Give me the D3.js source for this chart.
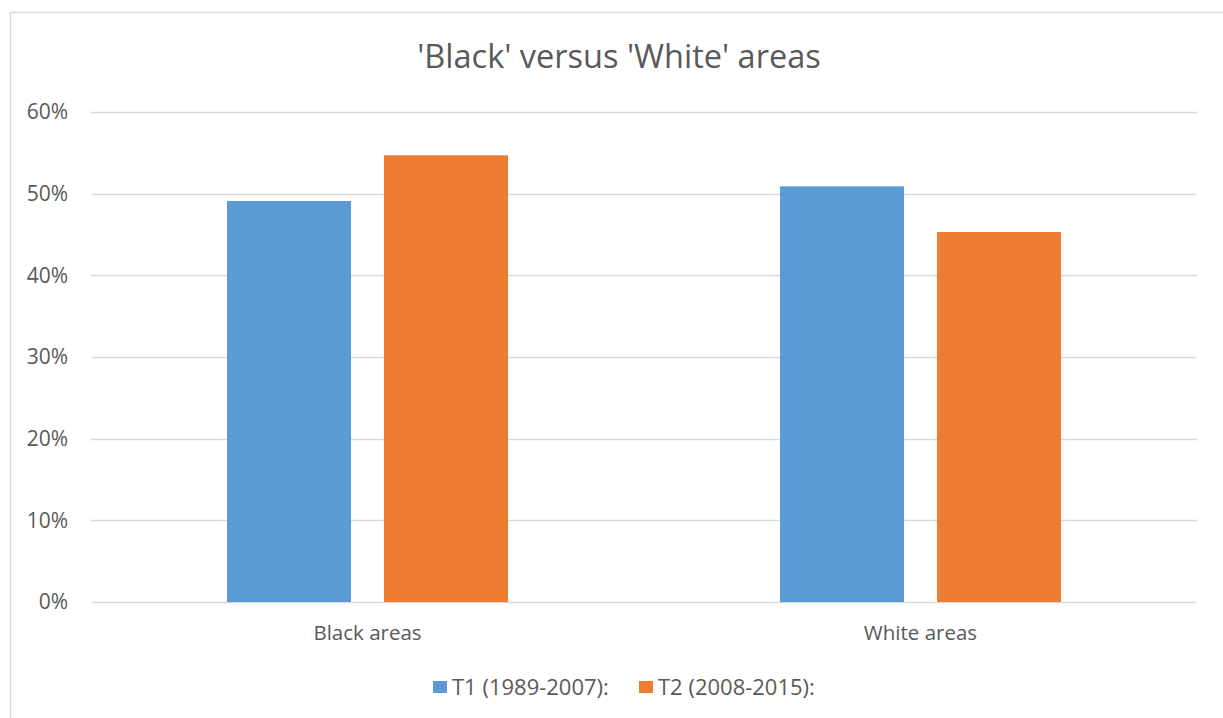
<!DOCTYPE html>
<html>
<head>
<meta charset="utf-8">
<script src="https://cdn.jsdelivr.net/npm/d3@7"></script>
<style>
  body { margin: 0; background: #fff; }
  text { font-family: "Open Sans", "Liberation Sans", sans-serif; fill: #595959; }
</style>
</head>
<body>
<div id="chart"></div>
<script>
// data
const categories = ["Black areas", "White areas"];
const seriesNames = ["T1 (1989-2007):", "T2 (2008-2015):"];
const seriesColors = ["#5b9bd5", "#ed7d31"];
const t1Values = [0.491, 0.509];
const t2Values = [0.547, 0.453];
const yTicks = [0, 0.1, 0.2, 0.3, 0.4, 0.5, 0.6];

const width = 1223, height = 718;
const margin = {top: 112, right: 26, bottom: 116, left: 91};

const svg = d3.select("#chart").append("svg")
  .attr("width", width)
  .attr("height", height);

// outer chart border
svg.append("rect")
  .attr("x", 10.5).attr("y", 12.5)
  .attr("width", 1230).attr("height", 720)
  .attr("fill", "#fff")
  .attr("stroke", "#d9d9d9")
  .attr("stroke-width", 1.5);

const yScale = d3.scaleLinear()
  .domain([0, 0.6])
  .range([height - margin.bottom, margin.top]);

const x0 = d3.scaleBand()
  .domain(categories)
  .range([margin.left, width - margin.right])
  .padding(0);

// group of 2 bars centred in each band
const groupW = 281;
const x1 = d3.scaleBand()
  .domain(seriesNames)
  .range([(x0.bandwidth() - groupW) / 2, (x0.bandwidth() + groupW) / 2])
  .paddingInner(0.21);

// gridlines
svg.append("g")
  .selectAll("line")
  .data(yTicks)
  .enter().append("line")
  .attr("x1", margin.left).attr("x2", width - margin.right)
  .attr("y1", d => Math.round(yScale(d)) + 0.5)
  .attr("y2", d => Math.round(yScale(d)) + 0.5)
  .attr("stroke", "#d9d9d9")
  .attr("stroke-width", 1.3);

// y tick labels
svg.append("g")
  .selectAll("text")
  .data(yTicks)
  .enter().append("text")
  .attr("x", 68)
  .attr("y", d => yScale(d))
  .attr("dy", "0.35em")
  .attr("text-anchor", "end")
  .style("font-size", "21px")
  .text(d3.format(".0%"));

// bars
const rows = categories.map((c, i) => ({cat: c, vals: [t1Values[i], t2Values[i]]}));
const groups = svg.append("g")
  .selectAll("g")
  .data(rows)
  .enter().append("g")
  .attr("transform", d => "translate(" + x0(d.cat) + ",0)");

groups.selectAll("rect")
  .data(d => d.vals.map((v, j) => ({name: seriesNames[j], v: v, j: j})))
  .enter().append("rect")
  .attr("x", d => x1(d.name))
  .attr("width", x1.bandwidth())
  .attr("y", d => yScale(d.v))
  .attr("height", d => yScale(0) - yScale(d.v))
  .attr("fill", d => seriesColors[d.j]);

// category labels
svg.append("g")
  .selectAll("text")
  .data(categories)
  .enter().append("text")
  .attr("x", d => x0(d) + x0.bandwidth() / 2)
  .attr("y", 633)
  .attr("dy", "0.35em")
  .attr("text-anchor", "middle")
  .style("font-size", "20.5px")
  .text(d => d);

// title
svg.append("text")
  .attr("x", 619)
  .attr("y", 57)
  .attr("dy", "0.35em")
  .attr("text-anchor", "middle")
  .style("font-size", "32.5px")
  .text("'Black' versus 'White' areas");

// legend
const legendX = [433, 639];
const legend = svg.append("g")
  .selectAll("g")
  .data(seriesNames)
  .enter().append("g")
  .attr("transform", (d, i) => "translate(" + legendX[i] + ",681)");
legend.append("rect")
  .attr("width", 14).attr("height", 12)
  .attr("fill", (d, i) => seriesColors[i]);
legend.append("text")
  .attr("x", 19).attr("y", 6)
  .attr("dy", "0.35em")
  .style("font-size", "22px")
  .text(d => d);
</script>
</body>
</html>
